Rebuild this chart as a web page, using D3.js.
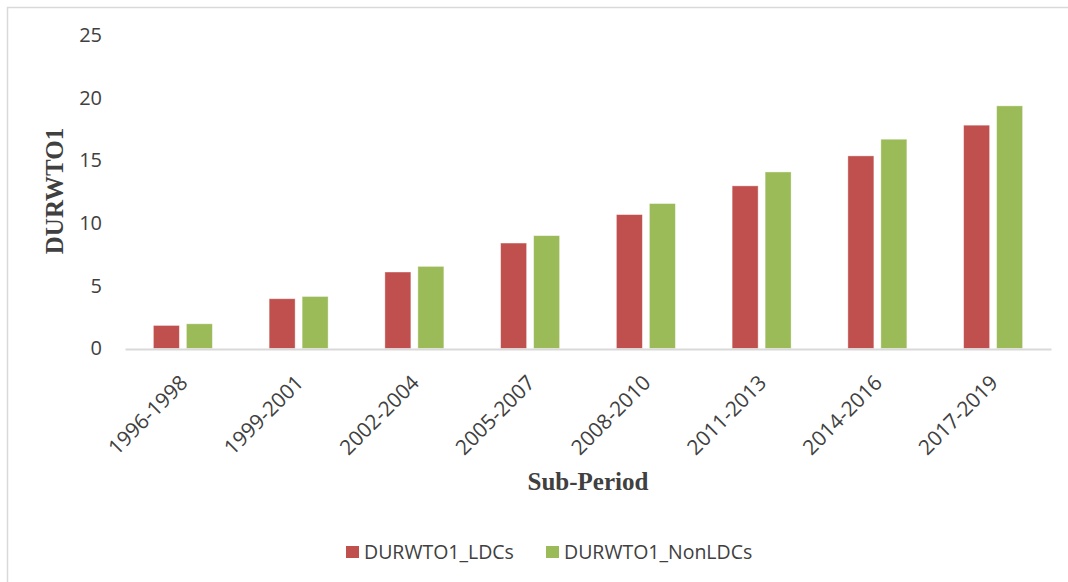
<!DOCTYPE html>
<html>
<head>
<meta charset="utf-8">
<script src="https://cdn.jsdelivr.net/npm/d3@7"></script>
<style>
  body { margin: 0; background: #fff; }
  text { fill: #404040; }
</style>
</head>
<body>
<div id="chart"></div>
<script>
// chart values
const periods = ['1996-1998', '1999-2001', '2002-2004', '2005-2007', '2008-2010', '2011-2013', '2014-2016', '2017-2019']
const seriesNames = ['DURWTO1_LDCs', 'DURWTO1_NonLDCs']
const ldcs = [1.84, 3.97, 6.1, 8.41, 10.68, 12.97, 15.36, 17.81]
const nonLdcs = [1.97, 4.15, 6.55, 9.0, 11.56, 14.08, 16.69, 19.35]
const yTicks = [0, 5, 10, 15, 20, 25]
const colors = ['#c0504d', '#9bbb59']

const width = 1068, height = 582
const margin = { top: 35, right: 17, bottom: 234, left: 125 }
const plotW = width - margin.left - margin.right
const plotH = height - margin.top - margin.bottom
const labelFont = '"Open Sans", sans-serif'
const labelSize = '19.5px'

const svg = d3.select('#chart')
    .append('svg')
    .attr('width', width)
    .attr('height', height)

// outer chart border (only top/left show inside the frame)
svg.append('rect')
    .attr('x', 7.5).attr('y', 7.5)
    .attr('width', 1100).attr('height', 600)
    .attr('fill', 'none')
    .attr('stroke', '#d9d9d9')
    .attr('stroke-width', 1.5)

const g = svg.append('g')
    .attr('transform', 'translate(' + margin.left + ',' + margin.top + ')')

const x0 = d3.scaleBand()
    .domain(periods)
    .range([0, plotW])
    .padding(0)

const groupW = 59
const x1 = d3.scaleBand()
    .domain(seriesNames)
    .range([(x0.bandwidth() - groupW) / 2, (x0.bandwidth() + groupW) / 2])
    .paddingInner(0.212)

const y = d3.scaleLinear()
    .domain([0, 25])
    .range([plotH + 0.5, 0])

// y axis labels (no line, no ticks)
const yAxis = g.append('g')
    .call(d3.axisLeft(y).tickValues(yTicks).tickSize(0).tickPadding(23))
yAxis.select('.domain').remove()
yAxis.selectAll('text')
    .style('font-family', labelFont)
    .style('font-size', '20px')
    .attr('fill', '#404040')

// bars
const rows = periods.map((p, i) => ({ period: p, values: [ldcs[i], nonLdcs[i]] }))

const groups = g.selectAll('.grp')
    .data(rows)
    .enter()
    .append('g')
    .attr('class', 'grp')
    .attr('transform', d => 'translate(' + x0(d.period) + ',0)')

groups.selectAll('rect')
    .data(d => d.values.map((v, k) => ({ key: seriesNames[k], value: v, k: k })))
    .enter()
    .append('rect')
    .attr('x', d => x1(d.key))
    .attr('y', d => y(d.value))
    .attr('width', x1.bandwidth())
    .attr('height', d => y(0) - y(d.value))
    .attr('fill', d => colors[d.k])
    .attr('stroke', '#ffffff')
    .attr('stroke-opacity', 0.5)
    .attr('stroke-width', 0.8)

// x axis
const xAxis = g.append('g')
    .attr('transform', 'translate(0,' + (plotH + 1) + ')')
    .call(d3.axisBottom(x0).tickSize(0).tickPadding(0))
xAxis.select('.domain')
    .attr('stroke', '#d9d9d9')
    .attr('stroke-width', 2)
xAxis.selectAll('text')
    .style('font-family', labelFont)
    .style('font-size', '20.8px')
    .attr('fill', '#404040')
    .style('text-anchor', 'end')
    .attr('dy', '0.35em')
    .attr('transform', 'translate(1,30) rotate(-45)')

// axis titles
svg.append('text')
    .attr('transform', 'translate(63,191) rotate(-90)')
    .attr('text-anchor', 'middle')
    .style('font-family', '"Liberation Serif", serif')
    .style('font-weight', 'bold')
    .style('font-size', '25px')
    .text('DURWTO1')

svg.append('text')
    .attr('x', margin.left + plotW / 2)
    .attr('y', 490)
    .attr('text-anchor', 'middle')
    .style('font-family', '"Liberation Serif", serif')
    .style('font-weight', 'bold')
    .style('font-size', '25px')
    .text('Sub-Period')

// legend
const legendX = [346, 546]
const legend = svg.selectAll('.legend')
    .data(seriesNames)
    .enter()
    .append('g')
    .attr('class', 'legend')
    .attr('transform', (d, i) => 'translate(' + legendX[i] + ',546)')

legend.append('rect')
    .attr('width', 13)
    .attr('height', 12)
    .attr('fill', (d, i) => colors[i])

legend.append('text')
    .attr('x', 18)
    .attr('y', 6)
    .attr('dy', '0.35em')
    .style('font-family', labelFont)
    .style('font-size', labelSize)
    .text(d => d)
</script>
</body>
</html>
